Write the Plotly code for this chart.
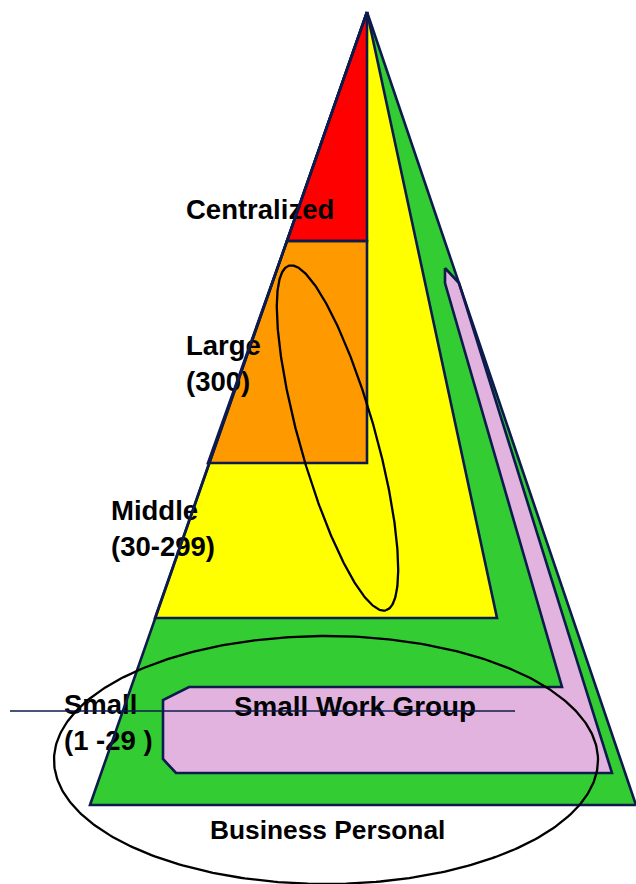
import numpy as np
import plotly.graph_objects as go

# ---- geometry of the diagram (pixel space: x right, y down) ----
outer_x = [367, 636, 90]
outer_y = [12, 805, 805]

yellow_x = [367, 497, 155]
yellow_y = [12, 618, 618]

red_x = [367, 367, 287]
red_y = [12, 241, 241]

orange_x = [287, 367, 367, 208]
orange_y = [241, 241, 463, 463]

pink_x = [445, 459, 612, 176, 163, 163, 189, 562, 445]
pink_y = [268, 283, 773, 773, 759, 700, 687, 687, 283]

# labels
label_text = ["Centralized", "Large<br>(300)", "Middle<br>(30-299)", "Small<br>(1 -29 )",
              "Small Work Group", "Business Personal"]
label_x = [186, 186, 111, 64, 234, 210]
label_y = [212, 366, 531, 725, 709, 832]
label_size = [27.5, 27.5, 27.5, 27.5, 27.8, 26.3]

# navy horizontal line
hline_x = [10, 515]
hline_y = [711, 711]

# big ellipse: center, radii
big_c = (326, 760)
big_r = (272, 124)

# tilted ellipse: center, semi-axes, tilt (deg from vertical)
small_c = (337.5, 438)
small_ab = (179, 38)
small_tilt = 15.7

NAVY = "#0d1b4c"
fills = [
    (outer_x, outer_y, "#33cc33"),
    (yellow_x, yellow_y, "#ffff00"),
    (red_x, red_y, "#ff0000"),
    (orange_x, orange_y, "#ff9900"),
    (pink_x, pink_y, "#e2b3de"),
]

fig = go.Figure()

def closed(xs, ys):
    return list(xs) + [xs[0]], list(ys) + [ys[0]]

for xs, ys, col in fills:
    cx, cy = closed(xs, ys)
    fig.add_trace(go.Scatter(x=cx, y=cy, mode="lines", fill="toself", fillcolor=col,
                             line=dict(width=0, color=col), hoverinfo="skip"))

for t, x, y, s in zip(label_text, label_x, label_y, label_size):
    fig.add_trace(go.Scatter(x=[x], y=[y], mode="text", text=[t], textposition="middle right",
                             textfont=dict(family="Liberation Sans, Arial, sans-serif", size=s,
                                           color="black", weight="bold"),
                             hoverinfo="skip"))

for xs, ys, col in fills:
    cx, cy = closed(xs, ys)
    fig.add_trace(go.Scatter(x=cx, y=cy, mode="lines", line=dict(width=2.6, color=NAVY),
                             hoverinfo="skip"))

fig.add_trace(go.Scatter(x=hline_x, y=hline_y, mode="lines", line=dict(width=1.6, color=NAVY),
                         hoverinfo="skip"))

t = np.linspace(0, 2 * np.pi, 400)
ex = big_c[0] + big_r[0] * np.cos(t)
ey = big_c[1] + big_r[1] * np.sin(t)
fig.add_trace(go.Scatter(x=ex, y=ey, mode="lines", line=dict(width=2.3, color="black"),
                         hoverinfo="skip"))

th = np.deg2rad(small_tilt)
u = np.array([np.sin(th), np.cos(th)])
v = np.array([np.cos(th), -np.sin(th)])
sx = small_c[0] + small_ab[0] * np.cos(t) * u[0] + small_ab[1] * np.sin(t) * v[0]
sy = small_c[1] + small_ab[0] * np.cos(t) * u[1] + small_ab[1] * np.sin(t) * v[1]
fig.add_trace(go.Scatter(x=sx, y=sy, mode="lines", line=dict(width=2.3, color="black"),
                         hoverinfo="skip"))

fig.update_layout(
    width=636, height=884, autosize=False,
    margin=dict(l=0, r=0, t=0, b=0, pad=0),
    paper_bgcolor="white", plot_bgcolor="white",
    showlegend=False,
    xaxis=dict(range=[0, 636], visible=False, fixedrange=True),
    yaxis=dict(range=[884, 0], visible=False, fixedrange=True),
)

fig.write_html("out.html", config={"displayModeBar": False},
               post_script="document.body.style.margin='0';document.body.style.padding='0';")
